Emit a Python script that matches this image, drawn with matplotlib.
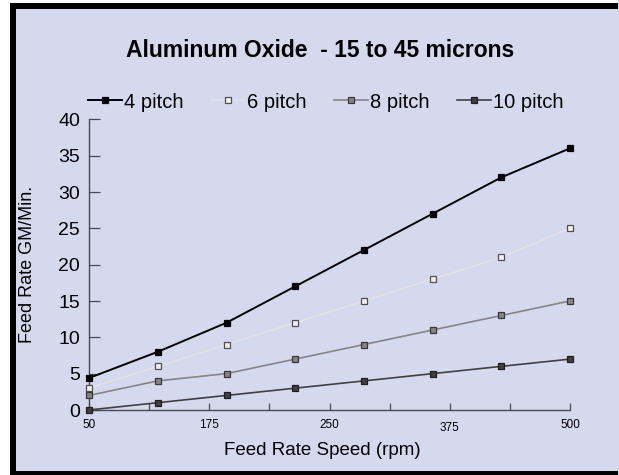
import matplotlib
matplotlib.use("Agg")
import matplotlib.pyplot as plt
from matplotlib.patches import Rectangle

plt.rcParams['font.family'] = ['Liberation Sans', 'DejaVu Sans']

# Data
speed_points = [0, 1, 2, 3, 4, 5, 6, 7]          # category positions of the 8 readings
pitch_4 = [4.4, 8, 12, 17, 22, 27, 32, 36]
pitch_6 = [3, 6, 9, 12, 15, 18, 21, 25]
pitch_8 = [2, 4, 5, 7, 9, 11, 13, 15]
pitch_10 = [0, 1, 2, 3, 4, 5, 6, 7]
series_names = ['4 pitch', '6 pitch', '8 pitch', '10 pitch']
x_tick_labels = ['50', '', '175', '', '250', '', '375', '', '500']
y_ticks = [0, 5, 10, 15, 20, 25, 30, 35, 40]

W, H = 619, 475
bg = '#d5d9ee'
fig = plt.figure(figsize=(W / 100 + 0.002, H / 100 + 0.002), dpi=100, facecolor=bg)
fig.patch.set_edgecolor(bg)
fig.patch.set_linewidth(0)

def frect(x0, y0, x1, y1, color):
    fig.patches.append(Rectangle((x0 / W, 1 - y1 / H), (x1 - x0) / W, (y1 - y0) / H,
                                 transform=fig.transFigure, facecolor=color,
                                 edgecolor='none', lw=0, zorder=0))

# frame: white margin, black left/top/bottom bars
frect(0, 0, 10, H, 'white')
frect(0, 0, W, 3, 'white')
frect(10, 3, 16, 472, 'black')
frect(10, 3, W - 1, 9, 'black')
frect(10, 471, W - 1, H, 'black')
frect(W - 1, 0, W + 2, H, bg)

ax = fig.add_axes([89 / W, 1 - 410 / H, (570 - 89) / W, (410 - 119.3) / H])
ax.set_facecolor(bg)

styles = [
    dict(color='black', lw=1.4, mfc='black', mec='black'),
    dict(color='#e4e4e4', lw=1.1, mfc='#f0f0f0', mec='#505050'),
    dict(color='#858585', lw=1.2, mfc='#858585', mec='#383838'),
    dict(color='#404040', lw=1.2, mfc='#404040', mec='#1e1e1e'),
]
for vals, name, st in zip([pitch_4, pitch_6, pitch_8, pitch_10], series_names, styles):
    ax.plot(speed_points, vals, color=st['color'], lw=st['lw'], marker='s', ms=4.8,
            mfc=st['mfc'], mec=st['mec'], mew=0.9, label=name, clip_on=False, zorder=3)

ax.set_xlim(0, 7)
ax.set_ylim(0, 40)
xt = [i * 7 / 8 for i in range(9)]
ax.set_xticks(xt)
ax.set_xticklabels(x_tick_labels, fontsize=8.5)
for lbl, t in zip(ax.get_xticklabels(), x_tick_labels):
    if t == '375':
        lbl.set_y(-0.01)
ax.set_yticks(y_ticks)
ax.set_yticklabels([str(v) for v in y_ticks], fontsize=14)

for s in ['top', 'right']:
    ax.spines[s].set_visible(False)
for s in ['left', 'bottom']:
    ax.spines[s].set_color('#4a4a55')
    ax.spines[s].set_linewidth(1.0)
ax.tick_params(axis='y', direction='in', length=8, width=0.9, color='#4a4a55', pad=6.5)
ax.tick_params(axis='x', direction='in', length=5, width=0.9, color='#4a4a55', pad=6.5)

ax.set_xlabel('Feed Rate Speed (rpm)', fontsize=13.5)
ax.xaxis.set_label_coords((322 - 89) / 481, (410 - 442) / 290.7)
ax.set_ylabel('Feed Rate GM/Min.', fontsize=13)
ax.yaxis.set_label_coords((36 - 89) / 481, 0.5)

fig.text(320 / W, 1 - 50 / H, 'Aluminum Oxide  - 15 to 45 microns', ha='center', va='center',
         fontsize=16.5, fontweight='bold')

fig.legend(loc='center left', bbox_to_anchor=(88 / W, 1 - 102 / H), ncol=4, frameon=False,
           fontsize=14.5, handlelength=1.7, columnspacing=1.35, handletextpad=0.1,
           borderpad=0, borderaxespad=0, markerscale=0.85)

fig.savefig('out.png', dpi=100, facecolor=bg)
